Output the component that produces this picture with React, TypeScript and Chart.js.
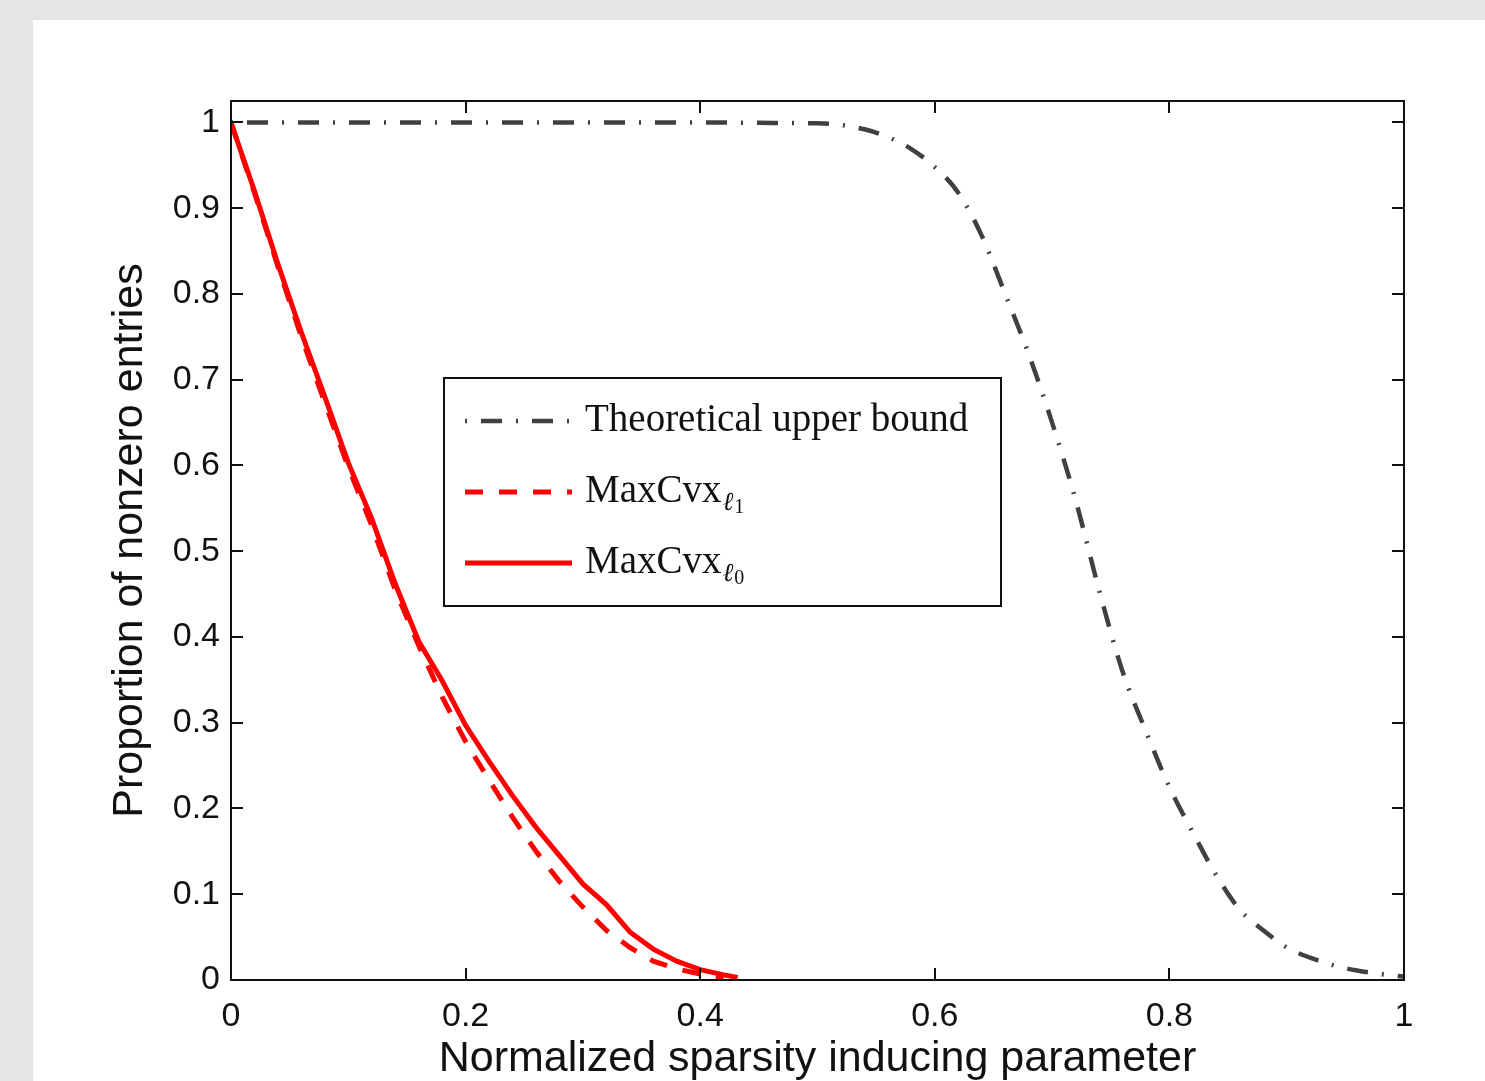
import { useEffect, useRef } from "react";
import { Chart, registerables } from "chart.js";

Chart.register(...registerables);

// ---- data ----
const theoX = [0, 0.1, 0.2, 0.3, 0.4, 0.45, 0.5, 0.52, 0.54, 0.56, 0.58, 0.6, 0.62, 0.64, 0.66, 0.68, 0.7, 0.72, 0.74, 0.76, 0.78, 0.8, 0.82, 0.84, 0.86, 0.88, 0.9, 0.92, 0.94, 0.96, 0.98, 1.0];
const theoY = [1, 1, 1, 1, 1, 0.9995, 0.999, 0.997, 0.992, 0.983, 0.969, 0.948, 0.918, 0.868, 0.8, 0.73, 0.65, 0.56, 0.455, 0.36, 0.29, 0.225, 0.172, 0.122, 0.082, 0.058, 0.038, 0.026, 0.017, 0.011, 0.007, 0.004];

const l1X = [0, 0.02, 0.04, 0.06, 0.08, 0.1, 0.12, 0.14, 0.16, 0.18, 0.2, 0.22, 0.24, 0.26, 0.28, 0.3, 0.32, 0.34, 0.36, 0.38, 0.4, 0.42];
const l1Y = [1, 0.918, 0.832, 0.75, 0.673, 0.598, 0.53, 0.455, 0.39, 0.33, 0.278, 0.233, 0.19, 0.15, 0.115, 0.085, 0.058, 0.038, 0.022, 0.013, 0.007, 0.003];

const l0X = [0, 0.02, 0.04, 0.06, 0.08, 0.1, 0.12, 0.14, 0.16, 0.18, 0.2, 0.22, 0.24, 0.26, 0.28, 0.3, 0.32, 0.34, 0.36, 0.38, 0.4, 0.42, 0.432];
const l0Y = [1, 0.92, 0.835, 0.755, 0.68, 0.603, 0.538, 0.462, 0.395, 0.349, 0.297, 0.255, 0.215, 0.178, 0.145, 0.112, 0.088, 0.056, 0.036, 0.022, 0.012, 0.006, 0.003];

const xTickValues = [0, 0.2, 0.4, 0.6, 0.8, 1];
const yTickValues = [0, 0.1, 0.2, 0.3, 0.4, 0.5, 0.6, 0.7, 0.8, 0.9, 1];

const seriesNames = ["Theoretical upper bound", "MaxCvx", "MaxCvx"];
const seriesSubs = ["", "1", "0"];

const xTitle = "Normalized sparsity inducing parameter";
const yTitle = "Proportion of nonzero entries";

const fmt = (v: number) => String(Number(v.toFixed(2)));

const framePlugin = {
  id: "frameTicks",
  afterDatasetsDraw(chart: any) {
    const { ctx, chartArea: a, scales } = chart;
    ctx.save();
    ctx.strokeStyle = "#111";
    ctx.lineWidth = 2;
    ctx.strokeRect(a.left, a.top, a.right - a.left, a.bottom - a.top);
    const L = 12;
    ctx.beginPath();
    scales.x.ticks.forEach((t: any) => {
      const px = Math.round(scales.x.getPixelForValue(t.value));
      ctx.moveTo(px, a.bottom);
      ctx.lineTo(px, a.bottom - L);
      ctx.moveTo(px, a.top);
      ctx.lineTo(px, a.top + L);
    });
    scales.y.ticks.forEach((t: any) => {
      const py = Math.round(scales.y.getPixelForValue(t.value));
      ctx.moveTo(a.left, py);
      ctx.lineTo(a.left + L, py);
      ctx.moveTo(a.right, py);
      ctx.lineTo(a.right - L, py);
    });
    ctx.stroke();
    ctx.restore();
  },
};

const legendPlugin = {
  id: "customLegend",
  afterDraw(chart: any) {
    const { ctx } = chart;
    const bx = 411, by = 358, bw = 557, bh = 228;
    ctx.save();
    ctx.fillStyle = "#fff";
    ctx.fillRect(bx, by, bw, bh);
    ctx.strokeStyle = "#111";
    ctx.lineWidth = 2;
    ctx.strokeRect(bx, by, bw, bh);
    const rows = [401, 472, 543];
    chart.data.datasets.forEach((ds: any, i: number) => {
      const y = rows[i];
      ctx.save();
      ctx.strokeStyle = ds.borderColor;
      ctx.lineWidth = ds.borderWidth;
      ctx.setLineDash(ds.borderDash || []);
      ctx.lineCap = "butt";
      ctx.beginPath();
      ctx.moveTo(432, y);
      ctx.lineTo(539, y);
      ctx.stroke();
      ctx.restore();
      ctx.fillStyle = "#111";
      ctx.textBaseline = "alphabetic";
      ctx.textAlign = "left";
      ctx.font = "39px 'Liberation Serif', 'Times New Roman', serif";
      const name = seriesNames[i];
      const tx = 552;
      const base = y + 10;
      ctx.fillText(name, tx, base);
      if (seriesSubs[i]) {
        const w = ctx.measureText(name).width;
        ctx.font = "italic 26px 'Liberation Serif', 'Times New Roman', serif";
        ctx.fillText("\u2113", tx + w + 1, base + 8);
        const w2 = ctx.measureText("\u2113").width;
        ctx.font = "20px 'Liberation Serif', 'Times New Roman', serif";
        ctx.fillText(seriesSubs[i], tx + w + 2 + w2, base + 11);
      }
    });
    ctx.restore();
  },
};

export default function App() {
  const ref = useRef<HTMLCanvasElement | null>(null);
  useEffect(() => {
    if (!ref.current) return;
    const toPts = (xs: number[], ys: number[]) => xs.map((x, i) => ({ x, y: ys[i] }));
    const chart = new Chart(ref.current, {
      type: "line",
      data: {
        datasets: [
          {
            label: seriesNames[0],
            data: toPts(theoX, theoY),
            borderColor: "#404040",
            borderWidth: 4.5,
            borderDash: [2, 14, 21, 14],
            pointRadius: 0,
            cubicInterpolationMode: "monotone",
            fill: false,
          },
          {
            label: seriesNames[1] + "_l1",
            data: toPts(l1X, l1Y),
            borderColor: "#ff0000",
            borderWidth: 5,
            borderDash: [18, 16],
            pointRadius: 0,
            fill: false,
          },
          {
            label: seriesNames[2] + "_l0",
            data: toPts(l0X, l0Y),
            borderColor: "#ff0000",
            borderWidth: 5,
            pointRadius: 0,
            fill: false,
          },
        ],
      },
      options: {
        responsive: false,
        animation: false,
        events: [],
        layout: { padding: { left: 0, top: 81, right: 81, bottom: 0 } },
        plugins: { legend: { display: false }, tooltip: { enabled: false } },
        scales: {
          x: {
            type: "linear",
            min: 0,
            max: 1,
            afterFit: (s: any) => { s.height = 101; },
            afterBuildTicks: (s: any) => { s.ticks = xTickValues.map((v) => ({ value: v })); },
            grid: { display: false, drawTicks: false },
            border: { display: false },
            ticks: {
              padding: 16,
              color: "#111",
              font: { family: "'Liberation Sans', Arial, sans-serif", size: 34 },
              callback: (v: any) => fmt(Number(v)),
              maxRotation: 0,
            },
            title: {
              display: true,
              text: xTitle,
              color: "#111",
              font: { family: "'Liberation Sans', Arial, sans-serif", size: 43 },
              padding: { top: 0, bottom: -4 },
            },
          },
          y: {
            type: "linear",
            min: 0,
            max: 1.025,
            afterFit: (s: any) => { s.width = 198; },
            afterBuildTicks: (s: any) => { s.ticks = yTickValues.map((v) => ({ value: v })); },
            grid: { display: false, drawTicks: false },
            border: { display: false },
            ticks: {
              padding: 11,
              color: "#111",
              font: { family: "'Liberation Sans', Arial, sans-serif", size: 34 },
              callback: (v: any) => fmt(Number(v)),
            },
            title: {
              display: true,
              text: yTitle,
              color: "#111",
              font: { family: "'Liberation Sans', Arial, sans-serif", size: 43 },
              padding: { top: 71, bottom: 0 },
            },
          },
        },
      },
      plugins: [framePlugin, legendPlugin],
    } as any);
    return () => chart.destroy();
  }, []);

  return (
    <div style={{ position: "fixed", left: 0, top: 0, width: 1485, height: 1081, background: "#e5e5e5", overflow: "hidden" }}>
      <div style={{ position: "absolute", left: 33, top: 20, width: 1452, height: 1061, background: "#fff" }}>
        <canvas ref={ref} width={1452} height={1061} style={{ display: "block" }} />
      </div>
    </div>
  );
}
